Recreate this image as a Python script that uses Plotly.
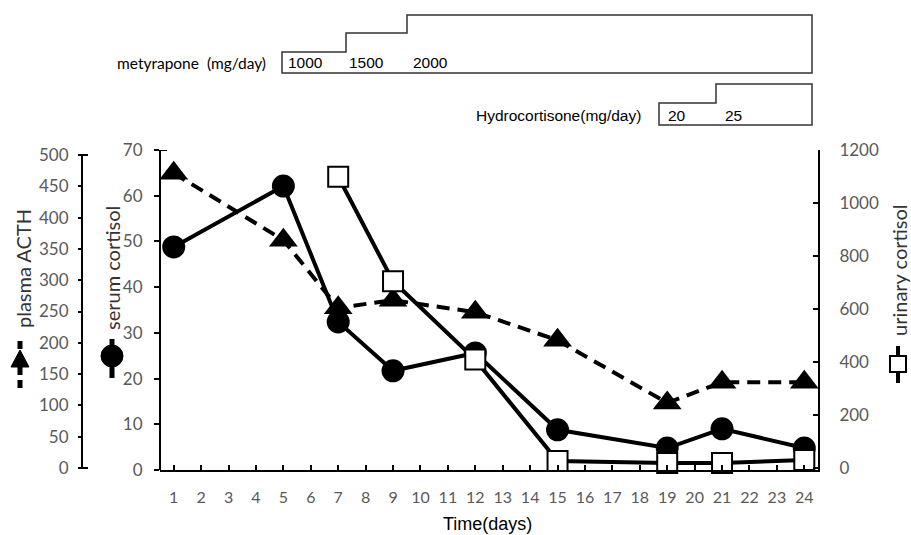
import plotly.graph_objects as go

# ---- data ----
days = list(range(1, 25))
acth_days = [1, 5, 7, 9, 12, 15, 19, 21, 24]
acth = [471, 364, 256, 268, 249, 204, 104, 137, 137]
serum_days = [1, 5, 7, 9, 12, 15, 19, 21, 24]
serum = [48.8, 62.1, 32.4, 21.7, 25.6, 8.8, 4.8, 9.0, 4.8]
urine_days = [7, 9, 12, 15, 19, 21, 24]
urine = [1099, 705, 409, 26, 19, 19, 30]
acth_ticks = list(range(0, 501, 50))
serum_ticks = list(range(0, 71, 10))
urine_ticks = list(range(0, 1201, 200))

W, H = 911, 535
ML, MR, MT, MB = 82, 93, 150, 65
PW = W - ML - MR
PH = H - MT - MB


def px(x):
    return (x - ML) / PW


def py(y):
    return (H - MB - y) / PH


YTICKFONT = dict(family="Lato, Liberation Sans, Arial", size=17, color="#595959")
XTICKFONT = dict(family="Lato, Liberation Sans, Arial", size=16, color="#595959")
TXT = "Liberation Sans, Arial"

fig = go.Figure()
fig.add_trace(go.Scatter(
    x=acth_days, y=acth, yaxis="y2", mode="lines+markers",
    line=dict(color="black", width=4, dash="13px,8px"),
    marker=dict(symbol="triangle-up", size=25, color="black"),
    showlegend=False, cliponaxis=False))
fig.add_trace(go.Scatter(
    x=serum_days, y=serum, yaxis="y", mode="lines+markers",
    line=dict(color="black", width=4),
    marker=dict(symbol="circle", size=23, color="black"),
    showlegend=False, cliponaxis=False))
fig.add_trace(go.Scatter(
    x=urine_days, y=urine, yaxis="y3", mode="lines+markers",
    line=dict(color="black", width=4),
    marker=dict(symbol="square", size=20, color="white", line=dict(color="black", width=2)),
    showlegend=False, cliponaxis=False))

fig.update_layout(
    width=W, height=H, margin=dict(l=ML, r=MR, t=MT, b=MB),
    paper_bgcolor="white", plot_bgcolor="white",
    xaxis=dict(domain=[(160 - ML) / PW, 1], range=[0.5, 24.5], tickvals=days,
               ticks="inside", ticklen=5, tickwidth=2, tickcolor="black",
               showline=True, linewidth=2, linecolor="black", showgrid=False,
               zeroline=False, tickfont=XTICKFONT, ticklabelstandoff=12),
    yaxis=dict(range=[0, 70], tickvals=serum_ticks, anchor="free",
               position=(160 - ML) / PW, ticks="outside", ticklen=5, tickwidth=2,
               tickcolor="black", showline=True, linewidth=2, linecolor="black",
               showgrid=False, zeroline=False, tickfont=YTICKFONT, ticklabelstandoff=8),
    yaxis2=dict(range=[-3.2, 508], tickvals=acth_ticks, anchor="free", position=0,
                overlaying="y", side="left", ticks="outside", ticklen=4, tickwidth=2,
                tickcolor="black", showline=False, showgrid=False, zeroline=False,
                tickfont=YTICKFONT, ticklabelstandoff=6),
    yaxis3=dict(range=[-7.5, 1200], tickvals=urine_ticks, anchor="x", overlaying="y",
                side="right", ticks="inside", ticklen=5, tickwidth=2, tickcolor="black",
                showline=True, linewidth=2, linecolor="black", showgrid=False,
                zeroline=False, tickfont=YTICKFONT, ticklabelstandoff=16),
)

shapes = []
# ACTH axis line + bracket ends
shapes.append(dict(type="line", xref="paper", yref="y2", x0=0, x1=0, y0=0, y1=500,
                   line=dict(color="black", width=2)))
for v in (0, 500):
    shapes.append(dict(type="line", xref="paper", yref="y2", x0=0, x1=px(88), y0=v, y1=v,
                       line=dict(color="black", width=2)))
shapes.append(dict(type="line", xref="paper", yref="y", x0=px(160), x1=px(167), y0=70, y1=70,
                   line=dict(color="black", width=2)))


def path(pts):
    s = "M " + " L ".join(f"{px(x):.5f},{py(y):.5f}" for x, y in pts) + " Z"
    return s


# metyrapone step box
shapes.append(dict(type="path", xref="paper", yref="paper",
                   path=path([(282, 73), (282, 52), (346, 52), (346, 33), (407, 33),
                              (407, 15), (812, 15), (812, 73)]),
                   line=dict(color="#333333", width=1.5)))
# hydrocortisone step box
shapes.append(dict(type="path", xref="paper", yref="paper",
                   path=path([(659, 125), (659, 103), (716, 103), (716, 84), (812, 84),
                              (812, 125)]),
                   line=dict(color="#333333", width=1.5)))

# axis-title glyphs
shapes.append(dict(type="line", xref="paper", yref="paper", x0=px(20), x1=px(20),
                   y0=py(341), y1=py(392), line=dict(color="black", width=5, dash="8px,5px")))
shapes.append(dict(type="path", xref="paper", yref="paper",
                   path=path([(11, 367), (29, 367), (20, 350)]),
                   fillcolor="black", line=dict(color="black", width=1)))
shapes.append(dict(type="line", xref="paper", yref="paper", x0=px(112), x1=px(112),
                   y0=py(339), y1=py(378), line=dict(color="black", width=5)))
shapes.append(dict(type="circle", xref="paper", yref="paper", x0=px(101), x1=px(123),
                   y0=py(345), y1=py(367), fillcolor="black", line=dict(color="black", width=1)))
shapes.append(dict(type="line", xref="paper", yref="paper", x0=px(898), x1=px(898),
                   y0=py(346), y1=py(383), line=dict(color="black", width=4)))
shapes.append(dict(type="rect", xref="paper", yref="paper", x0=px(890), x1=px(906),
                   y0=py(356), y1=py(372), fillcolor="white", line=dict(color="black", width=2)))
fig.update_layout(shapes=shapes)

ann = []


def text(t, x, y, size=15.5, xanchor="left", angle=0, color="black", font=TXT):
    ann.append(dict(text=t, x=px(x), y=py(y), xref="paper", yref="paper", showarrow=False,
                    xanchor=xanchor, yanchor="middle", textangle=angle,
                    font=dict(family=font, size=size, color=color)))


text("metyrapone&nbsp;&nbsp;(mg/day)", 268, 63, size=15.5, xanchor="right",
     font="Lato, Liberation Sans")
text("1000", 286, 63)
text("1500", 347, 63)
text("2000", 411, 63)
text("Hydrocortisone(mg/day)", 643, 115, size=15.5, xanchor="right")
text("20", 666, 115)
text("25", 723, 115)
text("plasma ACTH", 23, 269, size=20, xanchor="center", angle=-90, color="#333333",
     font="Lato, Liberation Sans")
text("serum cortisol", 112, 268, size=20, xanchor="center", angle=-90, color="#333333",
     font="Lato, Liberation Sans")
text("urinary cortisol", 899, 270, size=20, xanchor="center", angle=-90, color="#333333",
     font="Lato, Liberation Sans")
text("Time(days)", 487, 524, size=18, xanchor="center")
fig.update_layout(annotations=ann)

fig.write_html(
    "out.html",
    config={"displayModeBar": False},
    post_script="document.body.style.margin='0';document.body.style.overflow='hidden';",
)
